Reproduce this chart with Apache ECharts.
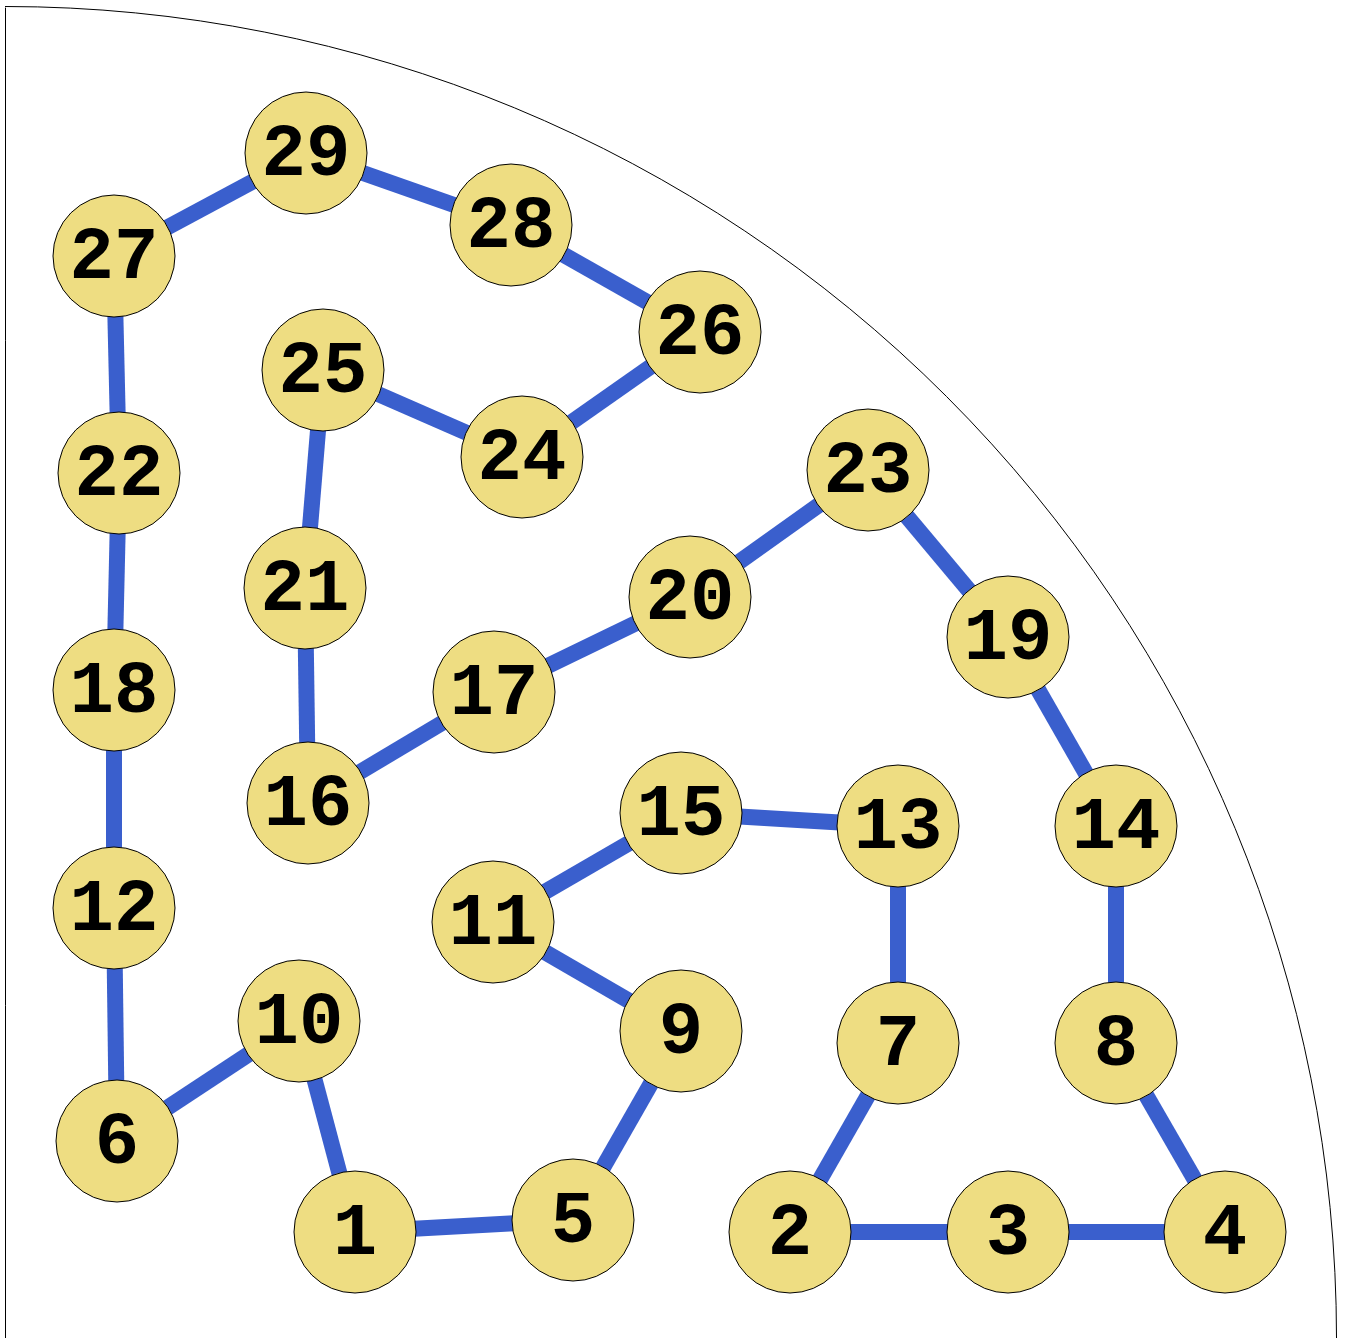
<!DOCTYPE html>
<html>
<head>
<meta charset="utf-8">
<script src="https://cdn.jsdelivr.net/npm/echarts@6/dist/echarts.min.js"></script>
<style>html,body{margin:0;padding:0;background:#fff;}#chart{width:1345px;height:1338px;}</style>
</head>
<body>
<div id="chart"></div>
<script>
const nodeLabels = ['1','2','3','4','5','6','7','8','9','10','11','12','13','14','15','16','17','18','19','20','21','22','23','24','25','26','27','28','29'];
const nodeX = [350,785,1003,1220,568,112,893,1111,676,294,488,109,893,1111,676,303,489,109,1003,685,300,114,863,517,318,695,109,506,301];
const nodeY = [106,106,106,106,118,197,295,295,307,317,416,430,512,512,525,535,646,648,701,741,750,865,868,881,968,1006,1082,1113,1185];
const edgeFrom = ['1','5','9','11','15','13','7','2','3','4','8','14','19','23','20','17','16','21','25','24','26','28','29','27','22','18','12','6','10'];
const edgeTo   = ['5','9','11','15','13','7','2','3','4','8','14','19','23','20','17','16','21','25','24','26','28','29','27','22','18','12','6','10','1'];
const xMax = 1333, yMax = 1330;

const chart = echarts.init(document.getElementById('chart'), null, {renderer:'canvas'});
const nodes = nodeLabels.map((n,i)=>({name:n, value:[nodeX[i], nodeY[i]]}));
const links = edgeFrom.map((s,i)=>({source:s, target:edgeTo[i]}));

chart.setOption({
  animation:false,
  backgroundColor:'#fff',
  grid:{left:5, right:7, top:8, bottom:0, containLabel:false},
  xAxis:{type:'value', min:0, max:xMax, show:false},
  yAxis:{type:'value', min:0, max:yMax, axisLine:{show:true, lineStyle:{color:'#000', width:1}}, axisTick:{show:false}, axisLabel:{show:false}, splitLine:{show:false}},
  series:[
    {
      type:'custom',
      coordinateSystem:'cartesian2d',
      data:[[0,0]],
      clip:false,
      silent:true,
      z:1,
      renderItem:function(params, api){
        const c = api.coord([0,0]);
        const rx = api.coord([xMax,0])[0]-c[0];
        const ry = c[1]-api.coord([0,yMax])[1];
        return {
          type:'arc',
          shape:{cx:c[0], cy:c[1], r:(rx+ry)/2, startAngle:-Math.PI/2, endAngle:0, clockwise:true},
          style:{stroke:'#000', fill:null, lineWidth:1}
        };
      }
    },
    {
      type:'graph',
      coordinateSystem:'cartesian2d',
      z:3,
      symbol:'circle',
      symbolSize:122,
      data:nodes,
      links:links,
      itemStyle:{color:'#EEDD82', borderColor:'#000', borderWidth:1},
      lineStyle:{color:'#3A5FCD', width:16, opacity:1, curveness:0},
      label:{show:true, position:'inside', color:'#000', fontFamily:'Liberation Mono', fontWeight:'bold', fontSize:74, offset:[0,3]},
      emphasis:{disabled:true}
    }
  ]
});
</script>
</body>
</html>
